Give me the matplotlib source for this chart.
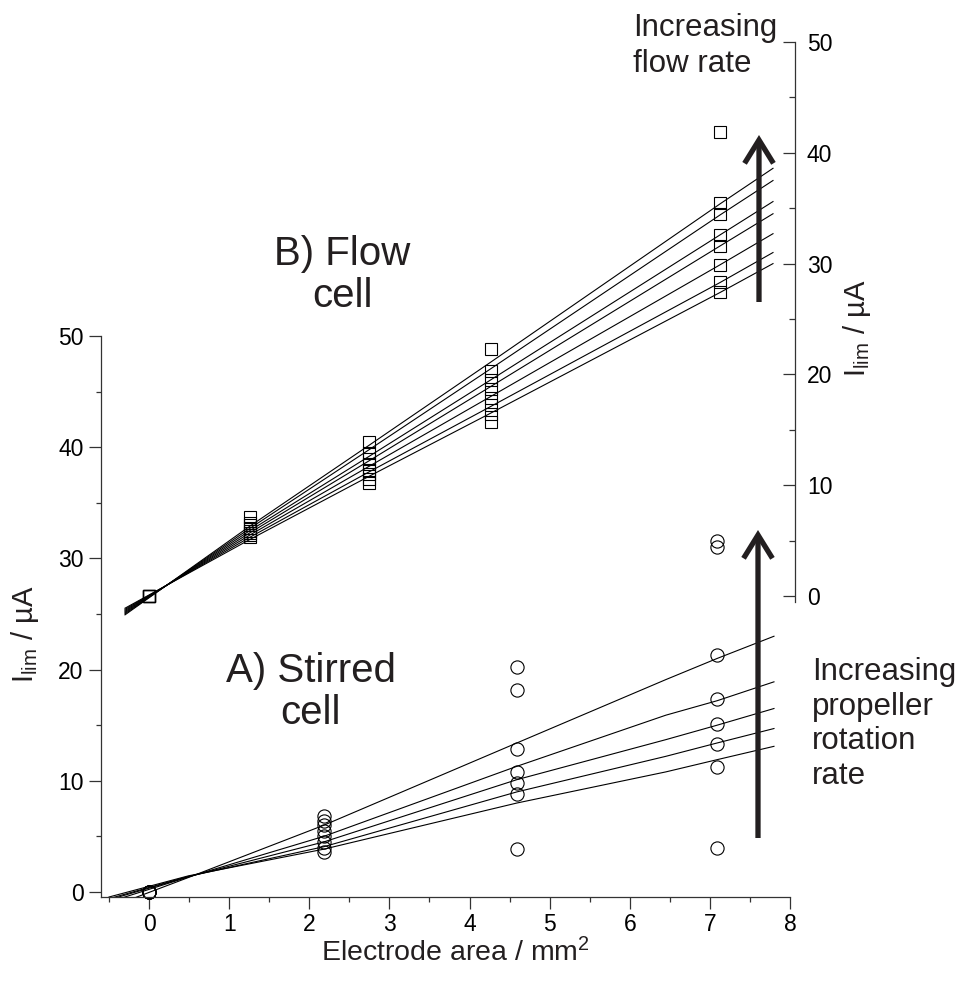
import matplotlib
matplotlib.use('Agg')
import matplotlib.pyplot as plt
from matplotlib.ticker import MultipleLocator
from matplotlib.patches import ArrowStyle, FancyArrowPatch

plt.rcParams['font.family'] = ['Liberation Sans', 'DejaVu Sans']
plt.rcParams['mathtext.fontset'] = 'custom'
plt.rcParams['mathtext.rm'] = 'Liberation Sans'
plt.rcParams['mathtext.it'] = 'Liberation Sans:italic'

INK = '#231f20'

# ---- A) Stirred cell (left axis) ----
stirred_x = [0.0, 2.18, 4.59, 7.09]
stirred_pts = [
    [0.0, 0.0, 0.0, 0.0, 0.0],
    [6.8, 6.4, 6.0, 5.5, 5.0, 4.5, 4.0, 3.6],
    [20.2, 18.2, 12.9, 10.8, 9.8, 8.8, 3.9],
    [31.6, 31.0, 21.3, 17.4, 15.1, 13.3, 11.2, 4.0],
]
stirred_fit_x = [-0.5, 0.49, 2.18, 4.59, 6.45, 7.09, 7.8]
stirred_fits = [
    [-1.4, 1.30, 6.00, 13.4, 19.1, 21.0, 23.0],
    [-0.9, 1.35, 5.00, 11.3, 15.9, 17.2, 18.9],
    [-0.7, 1.37, 4.50, 10.1, 13.7, 15.0, 16.5],
    [-0.6, 1.40, 4.07, 9.0, 12.2, 13.4, 14.7],
    [-0.45, 1.45, 3.85, 8.0, 10.8, 11.9, 13.1],
]

# ---- B) Flow cell (right axis) ----
flow_x = [0.0, 1.26, 2.75, 4.27, 7.14]
flow_pts = [
    [0.0, 7.1, 13.9, 22.3, 41.9],
    [0.0, 6.6, 12.9, 20.3, 35.5],
    [0.0, 6.4, 12.4, 19.5, 34.5],
    [0.0, 6.1, 11.9, 18.7, 32.6],
    [0.0, 5.9, 11.4, 17.9, 31.6],
    [0.0, 5.7, 11.0, 17.2, 29.9],
    [0.0, 5.5, 10.6, 16.4, 28.3],
    [0.0, 5.3, 10.2, 15.7, 27.4],
]
flow_fit_x = [-0.3, 1.26, 2.75, 4.27, 7.14, 7.8]
flow_fits = [
    [-1.7, 6.3, 13.6, 21.1, 35.4, 38.6],
    [-1.6, 6.1, 13.2, 20.5, 34.4, 37.5],
    [-1.5, 5.9, 12.6, 19.5, 32.6, 35.6],
    [-1.4, 5.7, 12.2, 18.9, 31.6, 34.5],
    [-1.3, 5.5, 11.7, 18.0, 29.9, 32.7],
    [-1.2, 5.3, 11.2, 17.1, 28.3, 31.0],
    [-1.1, 5.1, 10.8, 16.5, 27.4, 30.0],
]

W, H = 959, 985
fig = plt.figure(figsize=(W / 100, H / 100), dpi=100)


def fx(px):
    return px / W


def fy(py):
    return 1 - py / H


# main axes (stirred cell)
ax1 = fig.add_axes([fx(101), fy(897), (790 - 101) / W, (897 - 336) / H])
ax1.set_xlim(-0.6, 8.0)
ax1.set_ylim(-0.45, 50)
for s in ('top', 'right'):
    ax1.spines[s].set_visible(False)
for s in ('left', 'bottom'):
    ax1.spines[s].set_linewidth(0.9)
    ax1.spines[s].set_color('#333333')
ax1.xaxis.set_major_locator(MultipleLocator(1))
ax1.xaxis.set_minor_locator(MultipleLocator(0.5))
ax1.yaxis.set_major_locator(MultipleLocator(10))
ax1.yaxis.set_minor_locator(MultipleLocator(5))
ax1.tick_params(which='major', direction='out', length=8.5, width=0.9,
                labelsize=16.5, color='#333333')
ax1.tick_params(which='minor', direction='out', length=3.8, width=0.9,
                color='#333333')
ax1.tick_params(axis='y', which='major', pad=4)
ax1.tick_params(axis='x', which='major', pad=3)

for fit in stirred_fits:
    ax1.plot(stirred_fit_x, fit, color='black', lw=0.8)
for x, vals in zip(stirred_x, stirred_pts):
    ax1.plot([x] * len(vals), vals, linestyle='none', marker='o', ms=9.5,
             mfc='none', mec='black', mew=0.8, clip_on=False)

# secondary axes (flow cell)
ax2 = fig.add_axes([fx(101), fy(602), (795 - 101) / W, (602 - 42) / H])
ax2.patch.set_alpha(0)
ax2.set_xlim(-0.6, 8.075)
ax2.set_ylim(-0.54, 50)
for s in ('top', 'left', 'bottom'):
    ax2.spines[s].set_visible(False)
ax2.spines['right'].set_linewidth(0.9)
ax2.spines['right'].set_color('#333333')
ax2.set_xticks([])
ax2.yaxis.tick_right()
ax2.yaxis.set_major_locator(MultipleLocator(10))
ax2.yaxis.set_minor_locator(MultipleLocator(5))
ax2.tick_params(axis='y', which='major', direction='in', length=8.5,
                width=0.9, labelsize=16.5, pad=8.5, color='#333333')
ax2.tick_params(axis='y', which='minor', direction='in', length=4.3,
                width=0.9, color='#333333')

for fit in flow_fits:
    ax2.plot(flow_fit_x, fit, color='black', lw=0.8, clip_on=False)
for row in flow_pts:
    ax2.plot(flow_x, row, linestyle='none', marker='s', ms=8.6,
             mfc='none', mec='black', mew=0.8, clip_on=False)

# axis titles
ylab = r'I$_{\mathrm{lim}}$ / µA'
fig.text(fx(25), fy(634), ylab, rotation=90, ha='center', va='center',
         fontsize=21, color=INK)
fig.text(fx(857), fy(328), ylab, rotation=90, ha='center', va='center',
         fontsize=21, color=INK)
fig.text(fx(455), fy(953), r'Electrode area / mm$^{2}$', ha='center',
         va='center', fontsize=20.5, color=INK)

# panel annotations
fig.text(fx(342), fy(275), 'B) Flow\ncell', ha='center', va='center',
         multialignment='center', fontsize=29, color=INK, linespacing=1.12)
fig.text(fx(311), fy(692), 'A) Stirred\ncell', ha='center', va='center',
         multialignment='center', fontsize=29, color=INK, linespacing=1.12)
fig.text(fx(633), fy(13), 'Increasing\nflow rate', ha='left', va='top',
         fontsize=22.5, color=INK, linespacing=1.27)
fig.text(fx(812), fy(657), 'Increasing\npropeller\nrotation\nrate',
         ha='left', va='top', fontsize=22.5, color=INK, linespacing=1.2)

# trend arrows
style = ArrowStyle('->', head_length=0.42, head_width=0.26)
for x0, y_tail, y_tip in [(759, 302, 135), (758, 838, 530)]:
    fig.patches.append(FancyArrowPatch(
        (x0, H - y_tail), (x0, H - y_tip), transform=None,
        arrowstyle=style, mutation_scale=40, lw=3.8, color=INK,
        shrinkA=0, shrinkB=0, joinstyle='miter', capstyle='butt'))

fig.savefig('out.png', dpi=100)
